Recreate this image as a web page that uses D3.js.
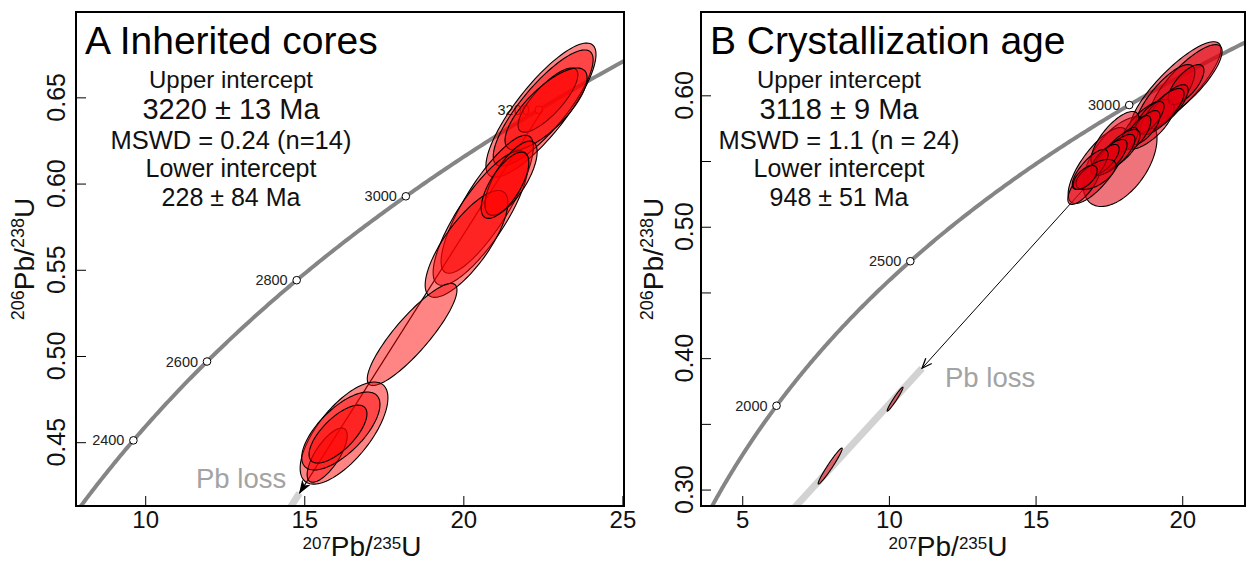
<!DOCTYPE html>
<html>
<head>
<meta charset="utf-8">
<script src="https://cdn.jsdelivr.net/npm/d3@7"></script>
<style>
  body { margin: 0; background: #fff; }
  svg text { font-family: "Liberation Sans", Arial, Helvetica, sans-serif; }
</style>
</head>
<body>
<svg id="chart" width="1247" height="562"></svg>
<script>
// U-Pb concordia diagrams: inherited cores (A) and crystallization age (B)

// decay constants, per Ma
const L238 = 1.55125e-4;
const L235 = 9.8485e-4;

// ellipse rows: [207Pb/235U, half width, 206Pb/238U, half height, rho]
const coresA = [
    [22.44, 1.73, 0.6426, 0.0389, 0.83],
    [22.51, 1.57, 0.6438, 0.0337, 0.83],
    [22.66, 0.94, 0.6484, 0.0186, 0.79],
    [22.60, 1.29, 0.6432, 0.0238, 0.76],
    [20.75, 1.45, 0.5880, 0.0400, 0.83],
    [20.55, 1.50, 0.5800, 0.0390, 0.81],
    [20.10, 1.30, 0.5650, 0.0310, 0.77],
    [21.50, 0.82, 0.6031, 0.0215, 0.71],
    [21.31, 0.75, 0.5990, 0.0192, 0.69],
    [18.39, 1.41, 0.5125, 0.0296, 0.87],
    [16.25, 1.38, 0.4553, 0.0296, 0.69],
    [15.72, 0.63, 0.4425, 0.0157, 0.72],
    [16.15, 1.23, 0.4565, 0.0226, 0.68],
    [16.06, 0.91, 0.4547, 0.0168, 0.70]
];

const grainsB = [
    [19.77, 1.55, 0.6055, 0.0353, 0.84],
    [20.13, 1.23, 0.6101, 0.0285, 0.82],
    [19.41, 1.02, 0.5968, 0.0266, 0.78],
    [17.88, 1.26, 0.5496, 0.0342, 0.51],
    [17.13, 1.02, 0.5466, 0.0289, 0.75],
    [18.83, 0.89, 0.5778, 0.0190, 0.68],
    [17.71, 0.82, 0.5664, 0.0213, 0.72],
    [16.65, 0.55, 0.5322, 0.0152, 0.74],
    [20.13, 0.61, 0.6082, 0.0152, 0.70],
    [19.52, 0.68, 0.5914, 0.0167, 0.76],
    [19.31, 0.75, 0.5877, 0.0175, 0.78],
    [18.90, 0.48, 0.5831, 0.0122, 0.70],
    [18.73, 0.51, 0.5755, 0.0129, 0.70],
    [18.49, 0.44, 0.5717, 0.0129, 0.70],
    [18.15, 0.34, 0.5664, 0.0091, 0.60],
    [17.88, 0.68, 0.5588, 0.0152, 0.72],
    [17.71, 0.68, 0.5550, 0.0152, 0.76],
    [17.54, 0.58, 0.5527, 0.0137, 0.72],
    [17.37, 0.48, 0.5512, 0.0114, 0.70],
    [16.86, 0.61, 0.5436, 0.0152, 0.76],
    [17.06, 0.68, 0.5398, 0.0114, 0.60],
    [16.69, 0.41, 0.5375, 0.0091, 0.60],
    [10.21, 0.27, 0.3688, 0.0091, 0.97],
    [7.999, 0.41, 0.3179, 0.0137, 0.97]
];

// concordia age labels (Ma)
const agesA = [2400, 2600, 2800, 3000, 3200];
const agesB = [2000, 2500, 3000];

// axis ticks
const xTicksA = [10, 15, 20, 25];
const yTicksA = [0.45, 0.50, 0.55, 0.60, 0.65];
const xTicksB = [5, 10, 15, 20];
const yTicksB = [0.30, 0.35, 0.40, 0.45, 0.50, 0.55, 0.60];
const yLabelsB = [0.30, 0.40, 0.50, 0.60];

// Pb-loss trajectories: [start, arrow tip, end of grey trend]
const pbLossA = [[22.5, 0.643], [14.85, 0.4205], [13.9, 0.393]];
const pbLossB = [[17.4, 0.5475], [11.13, 0.3923], [6.0, 0.2672]];

const statsA = ["Upper intercept", "3220 ± 13 Ma", "MSWD = 0.24 (n=14)", "Lower intercept", "228 ± 84 Ma"];
const statsB = ["Upper intercept", "3118 ± 9 Ma", "MSWD = 1.1 (n = 24)", "Lower intercept", "948 ± 51 Ma"];

const svg = d3.select('#chart');

const defs = svg.append('defs');
defs.append('marker')
    .attr('id', 'arrA')
    .attr('viewBox', '0 0 14 10')
    .attr('refX', 13).attr('refY', 5)
    .attr('markerUnits', 'userSpaceOnUse')
    .attr('markerWidth', 14).attr('markerHeight', 10)
    .attr('orient', 'auto')
    .append('path')
    .attr('d', 'M0,0 L14,5 L0,10 L4,5 Z')
    .attr('fill', '#000');
defs.append('marker')
    .attr('id', 'arrB')
    .attr('viewBox', '0 0 12 10')
    .attr('refX', 11).attr('refY', 5)
    .attr('markerUnits', 'userSpaceOnUse')
    .attr('markerWidth', 12).attr('markerHeight', 10)
    .attr('orient', 'auto')
    .append('path')
    .attr('d', 'M1,1 L11,5 L1,9')
    .attr('fill', 'none')
    .attr('stroke', '#000')
    .attr('stroke-width', 1.3);

function ellipsePoints(e, n) {
    const [x, sx, y, sy, rho] = e;
    const s = Math.sqrt(1 - rho * rho);
    return d3.range(n).map(i => {
        const a = 2 * Math.PI * i / n;
        const c = Math.cos(a), si = Math.sin(a);
        return [x + sx * c, y + sy * (rho * c + s * si)];
    });
}

function drawPanel(cfg) {
    const { id, left, right, top, bottom } = cfg;
    const x = d3.scaleLinear().domain(cfg.xDomain).range([left, right]);
    const y = d3.scaleLinear().domain(cfg.yDomain).range([bottom, top]);

    defs.append('clipPath').attr('id', 'clip' + id)
        .append('rect')
        .attr('x', left).attr('y', top)
        .attr('width', right - left).attr('height', bottom - top);

    const g = svg.append('g').attr('clip-path', `url(#clip${id})`);
    const line = d3.line().x(d => x(d[0])).y(d => y(d[1]));

    // concordia
    const curve = d3.range(0, 4200, 5).map(t => [Math.exp(L235 * t) - 1, Math.exp(L238 * t) - 1]);
    g.append('path')
        .attr('d', line(curve))
        .attr('fill', 'none')
        .attr('stroke', '#858585')
        .attr('stroke-width', 4);

    // age markers
    cfg.ages.forEach(t => {
        const px = x(Math.exp(L235 * t) - 1), py = y(Math.exp(L238 * t) - 1);
        g.append('circle')
            .attr('cx', px).attr('cy', py).attr('r', 3.8)
            .attr('fill', '#fff').attr('stroke', '#000').attr('stroke-width', 1);
        g.append('text')
            .attr('x', px - 9).attr('y', py + 5)
            .attr('text-anchor', 'end')
            .style('font-size', '14.5px')
            .style('fill', '#222')
            .text(t);
    });

    // Pb loss trend
    const [p0, tip, p2] = cfg.pbLoss;
    g.append('path')
        .attr('d', line([tip, p2]))
        .attr('stroke', '#d2d2d2')
        .attr('stroke-width', 7)
        .attr('fill', 'none');
    g.append('path')
        .attr('d', line([p0, tip]))
        .attr('stroke', '#000')
        .attr('stroke-width', cfg.arrowWidth)
        .attr('fill', 'none')
        .attr('marker-end', `url(#${cfg.marker})`);

    // error ellipses
    const closed = d3.line().x(d => x(d[0])).y(d => y(d[1])).curve(d3.curveLinearClosed);
    g.selectAll('.ell')
        .data(cfg.ellipses)
        .enter()
        .append('path')
        .attr('class', 'ell')
        .attr('d', d => closed(ellipsePoints(d, 120)))
        .attr('fill', cfg.fill)
        .attr('fill-opacity', cfg.fillOpacity)
        .attr('stroke', '#000')
        .attr('stroke-width', 1.1);

    // Pb loss label
    svg.append('text')
        .attr('x', cfg.pbText[0]).attr('y', cfg.pbText[1])
        .style('font-size', '27.5px')
        .style('fill', '#a3a3a3')
        .text('Pb loss');

    // panel title
    svg.append('text')
        .attr('x', left + 9).attr('y', 54)
        .style('font-size', '39px')
        .style('fill', '#000')
        .text(cfg.title);

    // stats block
    const sizes = [24, 29, 25.5, 25, 25];
    const baselines = [88, 119, 149, 177, 206];
    cfg.stats.forEach((s, i) => {
        svg.append('text')
            .attr('x', cfg.statsX).attr('y', baselines[i])
            .attr('text-anchor', 'middle')
            .style('font-size', sizes[i] + 'px')
            .style('fill', '#111')
            .text(s);
    });

    // axes: inward ticks
    const xAxis = d3.axisBottom(x).tickValues(cfg.xTicks).tickSize(-10).tickPadding(5).tickFormat(d3.format('d'));
    const ax = svg.append('g').attr('transform', `translate(0,${bottom})`).call(xAxis);
    ax.select('.domain').remove();
    ax.selectAll('text').style('font-size', '24px').style('fill', '#111').attr('font-family', null);
    ax.selectAll('line').attr('stroke', '#000');

    const yAxis = d3.axisLeft(y).tickValues(cfg.yTicks).tickSize(-10).tickFormat('');
    const ay = svg.append('g').attr('transform', `translate(${left},0)`).call(yAxis);
    ay.select('.domain').remove();
    ay.selectAll('line').attr('stroke', '#000');

    cfg.yLabels.forEach(v => {
        svg.append('text')
            .attr('transform', `translate(${left - cfg.yLabelGap},${y(v)}) rotate(-90)`)
            .attr('text-anchor', 'middle')
            .style('font-size', '25px')
            .style('fill', '#111')
            .text(d3.format('.2f')(v));
    });

    // frame
    svg.append('rect')
        .attr('x', left).attr('y', top)
        .attr('width', right - left).attr('height', bottom - top)
        .attr('fill', 'none')
        .attr('stroke', '#000')
        .attr('stroke-width', 2);

    // axis titles
    const xt = svg.append('text')
        .attr('x', cfg.xTitleX).attr('y', 556)
        .attr('text-anchor', 'middle')
        .style('fill', '#111');
    xt.append('tspan').attr('dy', -7).style('font-size', '17px').text('207');
    xt.append('tspan').attr('dy', 7).style('font-size', '28px').text('Pb/');
    xt.append('tspan').attr('dy', -7).style('font-size', '17px').text('235');
    xt.append('tspan').attr('dy', 7).style('font-size', '28px').text('U');

    const yt = svg.append('text')
        .attr('transform', `translate(${left - cfg.yTitleGap},${(top + bottom) / 2}) rotate(-90)`)
        .attr('text-anchor', 'middle')
        .style('fill', '#111');
    yt.append('tspan').attr('dy', -10).style('font-size', '18px').text('206');
    yt.append('tspan').attr('dy', 10).style('font-size', '28px').text('Pb/');
    yt.append('tspan').attr('dy', -10).style('font-size', '18px').text('238');
    yt.append('tspan').attr('dy', 10).style('font-size', '28px').text('U');
}

drawPanel({
    id: 'A', left: 76, right: 624, top: 12, bottom: 506,
    xDomain: [7.825, 25.05], yDomain: [0.413, 0.6995],
    xTicks: xTicksA, yTicks: yTicksA, yLabels: yTicksA,
    ages: agesA, ellipses: coresA, pbLoss: pbLossA,
    fill: 'rgb(255,0,0)', fillOpacity: 0.48,
    marker: 'arrA', arrowWidth: 1.2,
    pbText: [196, 488],
    title: 'A Inherited cores', stats: statsA, statsX: 231,
    yLabelGap: 11, yTitleGap: 42, xTitleX: 362
});

drawPanel({
    id: 'B', left: 701, right: 1245, top: 12, bottom: 506,
    xDomain: [3.594, 22.14], yDomain: [0.2875, 0.6634],
    xTicks: xTicksB, yTicks: yTicksB, yLabels: yLabelsB,
    ages: agesB, ellipses: grainsB, pbLoss: pbLossB,
    fill: 'rgb(225,0,15)', fillOpacity: 0.55,
    marker: 'arrB', arrowWidth: 1,
    pbText: [945, 387],
    title: 'B Crystallization age', stats: statsB, statsX: 839,
    yLabelGap: 8, yTitleGap: 38, xTitleX: 948
});
</script>
</body>
</html>
